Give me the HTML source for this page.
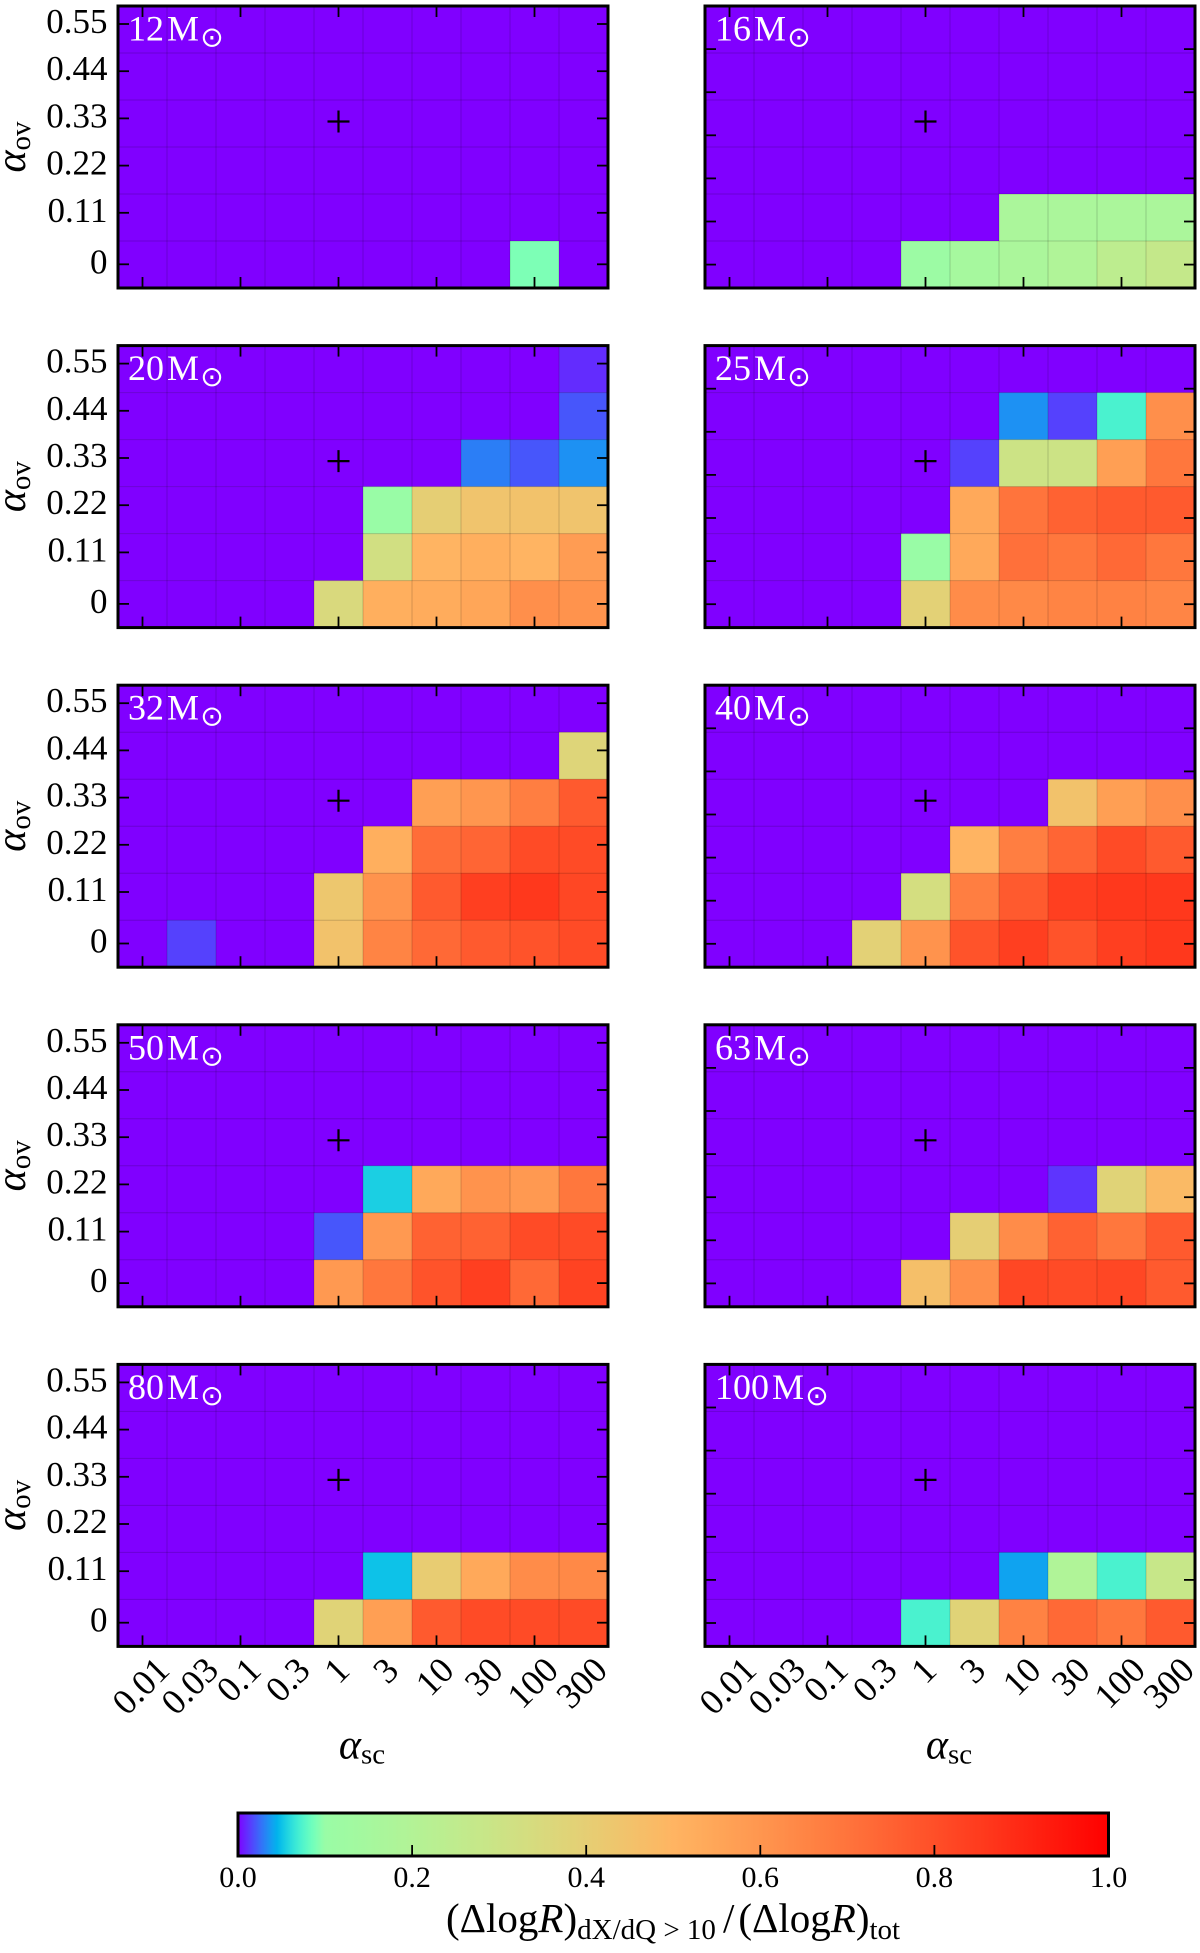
<!DOCTYPE html>
<html lang="en">
<head>
<meta charset="utf-8">
<title>Heatmap grid</title>
<style>
html,body{margin:0;padding:0;background:#fff;}
#figure{display:block;width:1200px;height:1953px;}
text{font-family:"Liberation Serif","DejaVu Serif",serif;fill:#000;}
</style>
</head>
<body>
<svg id="figure" xmlns="http://www.w3.org/2000/svg" width="1200" height="1953" viewBox="0 0 1200 1953">
  <defs><linearGradient id="cbar-gradient" x1="0" y1="0" x2="1" y2="0"></linearGradient></defs>
  <g id="panels"></g>
  <g id="colorbar"></g>
</svg>
<script>
const alphaScLabels = ['0.01','0.03','0.1','0.3','1','3','10','30','100','300'];
const alphaOvLabels = ['0','0.11','0.22','0.33','0.44','0.55'];
const colorbarTicks = [0,0.2,0.4,0.6,0.8,1];
const referenceSc = '1';
const referenceOv = '0.33';
const massLabels = ['12','16','20','25','32','40','50','63','80','100'];

// Each grid: top row (largest alpha_ov) first.
const grid12 = [
 [0,0,0,0,0,0,0,0,0,0],
 [0,0,0,0,0,0,0,0,0,0],
 [0,0,0,0,0,0,0,0,0,0],
 [0,0,0,0,0,0,0,0,0,0],
 [0,0,0,0,0,0,0,0,0,0],
 [0,0,0,0,0,0,0,0,0.09,0]];
const grid16 = [
 [0,0,0,0,0,0,0,0,0,0],
 [0,0,0,0,0,0,0,0,0,0],
 [0,0,0,0,0,0,0,0,0,0],
 [0,0,0,0,0,0,0,0,0,0],
 [0,0,0,0,0,0,0.17,0.17,0.17,0.17],
 [0,0,0,0,0.11,0.15,0.17,0.19,0.24,0.27]];
const grid20 = [
 [0,0,0,0,0,0,0,0,0,0.01],
 [0,0,0,0,0,0,0,0,0,0.02],
 [0,0,0,0,0,0,0,0.03,0.02,0.035],
 [0,0,0,0,0,0.1,0.4,0.44,0.45,0.44],
 [0,0,0,0,0,0.32,0.5,0.52,0.5,0.58],
 [0,0,0,0,0.35,0.52,0.53,0.55,0.62,0.61]];
const grid25 = [
 [0,0,0,0,0,0,0,0,0,0],
 [0,0,0,0,0,0,0.035,0.015,0.072,0.62],
 [0,0,0,0,0,0.015,0.3,0.3,0.57,0.69],
 [0,0,0,0,0,0.54,0.7,0.75,0.77,0.77],
 [0,0,0,0,0.1,0.54,0.71,0.69,0.73,0.69],
 [0,0,0,0,0.39,0.63,0.64,0.655,0.66,0.65]];
const grid32 = [
 [0,0,0,0,0,0,0,0,0,0],
 [0,0,0,0,0,0,0,0,0,0.37],
 [0,0,0,0,0,0,0.57,0.6,0.67,0.77],
 [0,0,0,0,0,0.52,0.72,0.74,0.81,0.81],
 [0,0,0,0,0.43,0.61,0.77,0.84,0.86,0.82],
 [0,0.015,0,0,0.45,0.655,0.73,0.77,0.79,0.81]];
const grid40 = [
 [0,0,0,0,0,0,0,0,0,0],
 [0,0,0,0,0,0,0,0,0,0],
 [0,0,0,0,0,0,0,0.45,0.57,0.62],
 [0,0,0,0,0,0.5,0.67,0.74,0.81,0.77],
 [0,0,0,0,0.33,0.67,0.77,0.84,0.86,0.86],
 [0,0,0,0.39,0.61,0.79,0.84,0.79,0.84,0.86]];
const grid50 = [
 [0,0,0,0,0,0,0,0,0,0],
 [0,0,0,0,0,0,0,0,0,0],
 [0,0,0,0,0,0,0,0,0,0],
 [0,0,0,0,0,0.055,0.54,0.61,0.59,0.69],
 [0,0,0,0,0.02,0.59,0.75,0.75,0.81,0.81],
 [0,0,0,0,0.59,0.69,0.79,0.84,0.73,0.83]];
const grid63 = [
 [0,0,0,0,0,0,0,0,0,0],
 [0,0,0,0,0,0,0,0,0,0],
 [0,0,0,0,0,0,0,0,0,0],
 [0,0,0,0,0,0,0,0.012,0.38,0.48],
 [0,0,0,0,0,0.4,0.63,0.75,0.69,0.77],
 [0,0,0,0,0.46,0.62,0.82,0.81,0.82,0.77]];
const grid80 = [
 [0,0,0,0,0,0,0,0,0,0],
 [0,0,0,0,0,0,0,0,0,0],
 [0,0,0,0,0,0,0,0,0,0],
 [0,0,0,0,0,0,0,0,0,0],
 [0,0,0,0,0,0.05,0.41,0.54,0.63,0.64],
 [0,0,0,0,0.38,0.57,0.77,0.81,0.81,0.81]];
const grid100 = [
 [0,0,0,0,0,0,0,0,0,0],
 [0,0,0,0,0,0,0,0,0,0],
 [0,0,0,0,0,0,0,0,0,0],
 [0,0,0,0,0,0,0,0,0,0],
 [0,0,0,0,0,0,0.04,0.19,0.072,0.28],
 [0,0,0,0,0.072,0.38,0.66,0.73,0.69,0.77]];

const allGrids = [grid12,grid16,grid20,grid25,grid32,grid40,grid50,grid63,grid80,grid100];

const NS = 'http://www.w3.org/2000/svg';
const panelW = 490, panelH = 282, cellW = panelW / alphaScLabels.length, cellH = panelH / alphaOvLabels.length;
const tickFont = 35;

function make(tag, parent, attrs, text) {
  const el = document.createElementNS(NS, tag);
  for (const k in attrs) el.setAttribute(k, attrs[k]);
  if (text !== undefined) el.textContent = text;
  parent.appendChild(el);
  return el;
}
function rainbow(t) {
  const r = Math.min(1, Math.abs(2 * t - 0.5));
  const g = Math.sin(Math.PI * t);
  const b = Math.cos(Math.PI * t / 2);
  const h = c => Math.round(Math.max(0, Math.min(1, c)) * 255);
  return 'rgb(' + h(r) + ',' + h(g) + ',' + h(b) + ')';
}
function valueColor(v) {
  const t = v < 0.1 ? v * 5.5 : 0.5 + 0.5 * v;
  return rainbow(t);
}
function panelLeft(c) { return c === 0 ? 118 : 705; }
function panelTop(r) { return 6 + 339.6 * r; }
function xScale(i, left) { return left + i * cellW; }
function yScale(i, top) { return top + i * cellH; }
// Labelled (left column) panels: tick for alpha_ov index i.
function yTickLabelled(i, top) {
  return i === 0 ? top + 258.3 : top + 18 + (5 - i) * 47.2;
}
// Unlabelled (right column) panels: evenly spaced ticks from the top edge.
function yTickPlain(i, top) { return top + i * 43.1; }

const panelsRoot = document.getElementById('panels');
allGrids.forEach(function (grid, p) {
  const col = p % 2, row = Math.floor(p / 2);
  const left = panelLeft(col), top = panelTop(row);
  const mass = massLabels[p];
  const g = make('g', panelsRoot, {});
  
  

  grid.forEach(function (values, r) {
    values.forEach(function (v, c) {
      const cell = make('rect', g, {
        x: xScale(c, left), y: yScale(r, top),
        width: cellW + 0.3, height: cellH + 0.3,
        fill: valueColor(v)
      });
      
      
    });
  });

  for (let i = 1; i < alphaScLabels.length; i++) {
    const gl = make('line', g, { x1: xScale(i, left), x2: xScale(i, left), y1: top, y2: top + panelH, stroke: 'rgba(0,0,0,0.17)', 'stroke-width': 1 });
    
    
  }
  for (let i = 1; i < alphaOvLabels.length; i++) {
    const gl = make('line', g, { x1: left, x2: left + panelW, y1: yScale(i, top), y2: yScale(i, top), stroke: 'rgba(0,0,0,0.17)', 'stroke-width': 1 });
    
    
  }

  alphaScLabels.forEach(function (lab, i) {
    if (i % 2) return;
    const x = xScale(i + 0.5, left);
    const t1 = make('line', g, { x1: x, x2: x, y1: top + panelH, y2: top + panelH - 11, stroke: '#000', 'stroke-width': 1.8 });
    
    
    const t2 = make('line', g, { x1: x, x2: x, y1: top, y2: top + 11, stroke: '#000', 'stroke-width': 1.8 });
    
    
  });

  if (col === 0) {
    alphaOvLabels.forEach(function (lab, i) {
      const y = yTickLabelled(i, top);
      const t1 = make('line', g, { x1: left, x2: left + 11, y1: y, y2: y, stroke: '#000', 'stroke-width': 1.8 });
      
      
      const t2 = make('line', g, { x1: left + panelW, x2: left + panelW - 11, y1: y, y2: y, stroke: '#000', 'stroke-width': 1.8 });
      
      
      const tl = make('text', g, { x: left - 10.5, y: y + 9, 'text-anchor': 'end', 'font-size': tickFont }, lab);
      
      
    });
  } else {
    for (let i = 0; i <= 6; i++) {
      const y = yTickPlain(i, top);
      const t1 = make('line', g, { x1: left, x2: left + 11, y1: y, y2: y, stroke: '#000', 'stroke-width': 1.8 });
      
      
      const t2 = make('line', g, { x1: left + panelW, x2: left + panelW - 11, y1: y, y2: y, stroke: '#000', 'stroke-width': 1.8 });
      
      
    }
  }

  const frame = make('rect', g, { x: left, y: top, width: panelW, height: panelH, fill: 'none', stroke: '#000', 'stroke-width': 3 });
  
  

  const cx = xScale(alphaScLabels.indexOf(referenceSc) + 0.5, left);
  const cy = yScale(5 - alphaOvLabels.indexOf(referenceOv) + 0.5, top) - 2;
  const cross = make('path', g, { d: 'M' + (cx - 11) + ' ' + cy + 'H' + (cx + 11) + 'M' + cx + ' ' + (cy - 11) + 'V' + (cy + 11), stroke: '#000', 'stroke-width': 2.2, fill: 'none' });
  
  

  const m = make('text', g, { x: left + 10, y: top + 34.5, 'font-size': 36, style: 'fill:#fff' });
  
  
  make('tspan', m, {}, mass);
  make('tspan', m, { dx: 3 }, 'M');
  const massW = m.getComputedTextLength() + 3;
  const sun = make('text', g, { x: left + 10 + massW + 13, y: top + 40.5, 'text-anchor': 'middle', 'font-size': 28, style: 'fill:#fff;font-family:"DejaVu Sans",sans-serif' }, '\u2299');
  
  

  if (col === 0) {
    const ty = top + 141;
    const title = make('text', g, { transform: 'rotate(-90 25 ' + ty + ')', x: 25, y: ty, 'text-anchor': 'middle', 'font-size': 42 });
    
    
    make('tspan', title, { 'font-style': 'italic' }, '\u03b1');
    make('tspan', title, { 'font-size': 29, dy: 5 }, 'ov');
  }

  if (row === 4) {
    const labelTop = top + panelH + 12.5;
    alphaScLabels.forEach(function (lab, i) {
      const x = xScale(i + 0.5, left) - 1.5;
      const w = 35 * (lab.replace('.', '').length * 0.5 + (lab.indexOf('.') >= 0 ? 0.25 : 0));
      const cyl = labelTop + (w + 16) * 0.7071 / 2;
      const tl = make('text', g, { transform: 'rotate(-45 ' + x + ' ' + cyl + ')', x: x, y: cyl + 11.5, 'text-anchor': 'middle', 'font-size': 36 }, lab);
      
      
    });
    const title = make('text', g, { x: left + panelW / 2 - 1, y: top + panelH + 112, 'text-anchor': 'middle', 'font-size': 42 });
    
    
    make('tspan', title, { 'font-style': 'italic' }, '\u03b1');
    make('tspan', title, { 'font-size': 29, dy: 5 }, 'sc');
  }
});

// Colorbar
const cbarRoot = document.getElementById('colorbar');
const cbarLeft = 238, cbarRight = 1108.5, cbarTop = 1813, cbarBottom = 1856;
function cbarX(v) { return cbarLeft + v * (cbarRight - cbarLeft); }
const gradient = document.getElementById('cbar-gradient');
for (let i = 0; i <= 200; i++) {
  const v = i / 200;
  make('stop', gradient, { offset: v, 'stop-color': valueColor(v) });
}
const cbarFill = make('rect', cbarRoot, { x: cbarLeft, y: cbarTop, width: cbarRight - cbarLeft, height: cbarBottom - cbarTop, fill: 'url(#cbar-gradient)', stroke: '#000', 'stroke-width': 3 });


colorbarTicks.forEach(function (v) {
  const x = cbarX(v);
  if (v > 0 && v < 1) {
    const t = make('line', cbarRoot, { x1: x, x2: x, y1: cbarBottom, y2: cbarBottom - 11, stroke: '#000', 'stroke-width': 1.8 });
    
    
  }
  const l = make('text', cbarRoot, { x: x, y: 1887, 'text-anchor': 'middle', 'font-size': 30 }, v.toFixed(1));
  
  
});
const cbarTitle = make('text', cbarRoot, { x: 446, y: 1932, 'font-size': 41 });


make('tspan', cbarTitle, {}, '(\u0394log');
make('tspan', cbarTitle, { 'font-style': 'italic' }, 'R');
make('tspan', cbarTitle, {}, ')');
make('tspan', cbarTitle, { 'font-size': 29, dy: 7 }, 'dX/dQ > 10');
make('tspan', cbarTitle, { dy: -7, dx: 7 }, '/');
make('tspan', cbarTitle, { dx: 4 }, '(\u0394log');
make('tspan', cbarTitle, { 'font-style': 'italic' }, 'R');
make('tspan', cbarTitle, {}, ')');
make('tspan', cbarTitle, { 'font-size': 29, dy: 7 }, 'tot');
</script>
</body>
</html>
